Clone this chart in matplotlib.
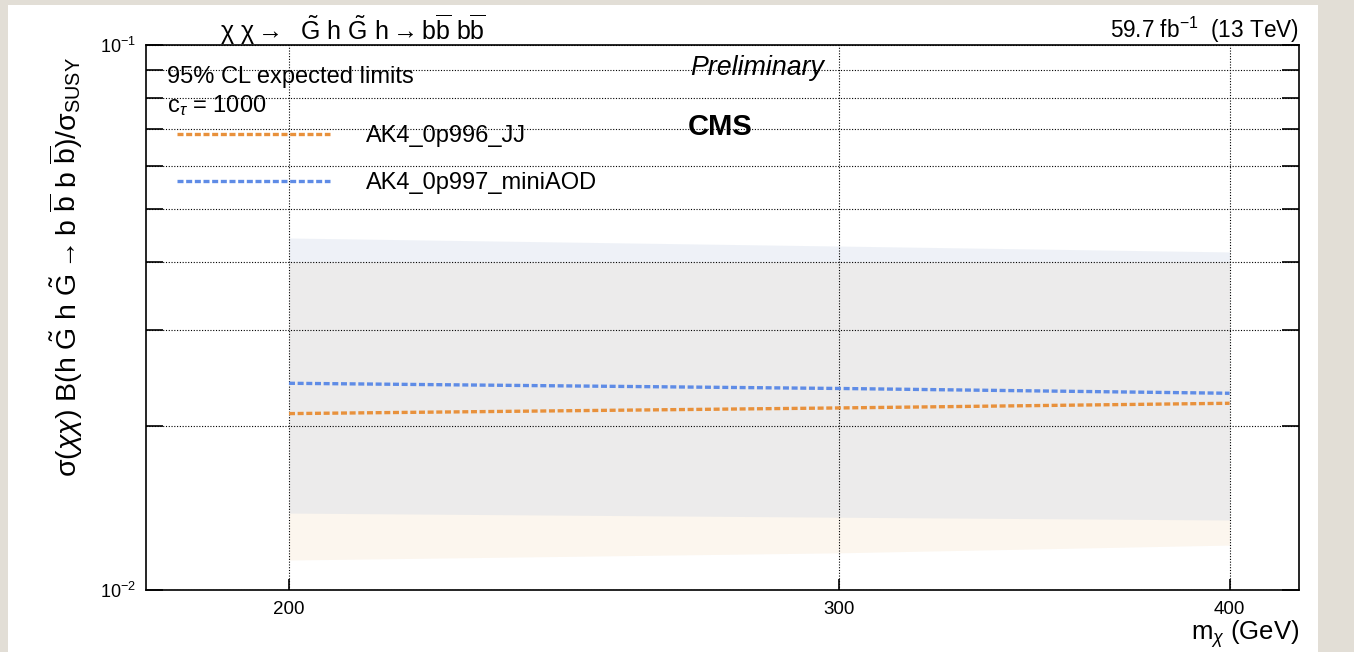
import numpy as np
import matplotlib
matplotlib.use("Agg")
from matplotlib import pyplot as plt
from matplotlib.patches import Rectangle
from matplotlib.ticker import FixedLocator, FuncFormatter, NullLocator

plt.rcParams["font.family"] = ["Liberation Sans", "DejaVu Sans"]
plt.rcParams["mathtext.fontset"] = "custom"
plt.rcParams["mathtext.rm"] = "Liberation Sans"
plt.rcParams["mathtext.it"] = "Liberation Sans:italic"
plt.rcParams["mathtext.bf"] = "Liberation Sans:bold"

# expected limits vs chargino mass, ctau = 1000
mass = [200, 300, 400]
exp_jj = [0.02107, 0.02158, 0.02201]
exp_mini = [0.02395, 0.02343, 0.02296]
band_jj_lo = [0.01135, 0.0117, 0.01209]
band_jj_hi = [0.0400, 0.0400, 0.0400]
band_mini_lo = [0.01384, 0.0136, 0.01344]
band_mini_hi = [0.04425, 0.04277, 0.04172]
labels = ["AK4_0p996_JJ", "AK4_0p997_miniAOD"]

W, H = 1354, 652
fig = plt.figure(figsize=(W / 100, H / 100), dpi=100, facecolor="#e2ded6")
fig.patches.append(Rectangle((8 / W, 0), 1310 / W, 1 - 5 / H, transform=fig.transFigure,
                             facecolor="white", edgecolor="none", zorder=-5))

def fx(px):
    return px / W

def fy(py):
    return 1 - py / H

ax = fig.add_axes([fx(146), fy(590), fx(1299) - fx(146), fy(45) - fy(590)])
ax.set_facecolor("none")

orange = "#e8913c"
blue = "#5f8ce6"

ax.fill_between(mass, band_jj_lo, band_jj_hi, color="#ebc38e", alpha=0.15, lw=0)
ax.fill_between(mass, band_mini_lo, band_mini_hi, color="#c4d0e4", alpha=0.28, lw=0)
l1, = ax.plot(mass, exp_jj, color=orange, lw=2.4, ls=(0, (1.8, 0.8)))
l2, = ax.plot(mass, exp_mini, color=blue, lw=2.4, ls=(0, (1.8, 0.8)))

ax.set_xscale("log")
ax.set_yscale("log")
ax.set_xlim(180, 421)
ax.set_ylim(0.01, 0.1)

ax.xaxis.set_major_locator(FixedLocator([200, 300, 400]))
ax.xaxis.set_minor_locator(NullLocator())
ax.xaxis.set_major_formatter(FuncFormatter(lambda v, p: "%d" % v))
ax.yaxis.set_major_locator(FixedLocator([0.01 * k for k in range(1, 11)]))
ax.yaxis.set_minor_locator(NullLocator())

def ylab(v, p):
    if abs(v - 0.01) < 1e-6:
        return r"$10^{-2}$"
    if abs(v - 0.1) < 1e-6:
        return r"$10^{-1}$"
    return ""

ax.yaxis.set_major_formatter(FuncFormatter(ylab))
ax.tick_params(axis="y", which="major", direction="in", length=12, width=1.2,
               left=True, right=True, labelsize=13, pad=7)
ax.tick_params(axis="x", which="major", direction="in", length=8, width=1.2,
               labelsize=13.5, pad=8)
ax.grid(True, which="major", ls=(0, (1, 1.5)), color="black", lw=0.8)
for s in ax.spines.values():
    s.set_linewidth(1.2)

bb = r"\mathrm{b}\overline{\mathrm{b}}"

# titles and annotations
fig.text(fx(220), fy(30),
         r"$\mathrm{\chi}\ \mathrm{\chi} \rightarrow\ \ \tilde{\mathrm{G}}\ \mathrm{h}\ \tilde{\mathrm{G}}\ \mathrm{h} \rightarrow " + bb + r"\ " + bb + "$",
         ha="left", va="center", fontsize=18)
fig.text(fx(1299), fy(30), r"59.7 fb$^{\mathrm{-1}}$  (13 TeV)", ha="right", va="center", fontsize=16.3)
fig.text(fx(167), fy(77), "95% CL expected limits", ha="left", va="center", fontsize=17)
fig.text(fx(167), fy(106), r"$\mathrm{c}_{\tau}$ = 1000", ha="left", va="center", fontsize=17)
fig.text(fx(690), fy(68), "Preliminary", ha="left", va="center", fontsize=19.3, style="italic")
fig.text(fx(688), fy(127), "CMS", ha="left", va="center", fontsize=21, weight="bold")

fig.text(fx(66), fy(57),
         r"$\mathrm{\sigma}(\chi\chi)\ \mathrm{B}(\mathrm{h}\ \tilde{\mathrm{G}}\ \mathrm{h}\ \tilde{\mathrm{G}} \rightarrow \mathrm{b}\ \overline{\mathrm{b}}\ \mathrm{b}\ \overline{\mathrm{b}})/\mathrm{\sigma}_{\mathrm{SUSY}}$",
         rotation=90, ha="center", va="top", fontsize=20.5)
fig.text(fx(1299), fy(634), r"$\mathrm{m}_{\chi}$ (GeV)", ha="right", va="center", fontsize=18.5)

ax.legend([l1, l2], labels, loc="upper left", bbox_to_anchor=(fx(177), fy(125)),
          bbox_transform=fig.transFigure, frameon=False, borderpad=0, borderaxespad=0,
          fontsize=17, handlelength=6.5, handletextpad=1.5, labelspacing=1.05)

fig.savefig("out.png", dpi=100, facecolor=fig.get_facecolor())
